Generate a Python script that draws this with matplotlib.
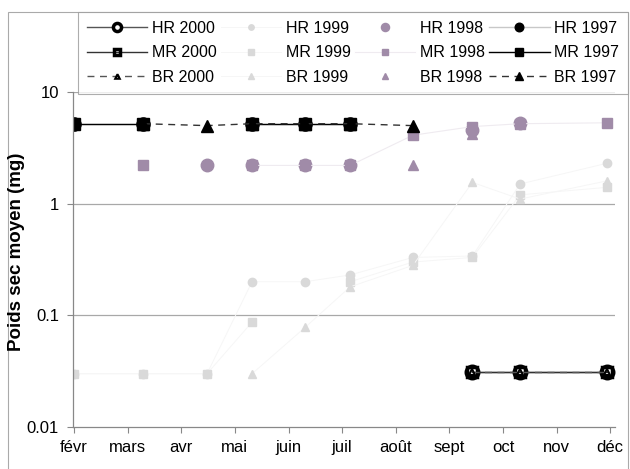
import numpy as np
import matplotlib
matplotlib.use("Agg")
import matplotlib.pyplot as plt
from matplotlib.patches import Rectangle

plt.rcParams['font.family'] = ['Liberation Sans', 'DejaVu Sans']

nan = np.nan

# sampling dates, in months after 1 Feb
sample_month = [0, 1.29, 2.48, 3.32, 4.31, 5.15, 6.32, 7.43, 8.32, 9.94]
month_labels = ['févr', 'mars', 'avr', 'mai', 'juin', 'juil', 'août', 'sept', 'oct', 'nov', 'déc']

# dry weight (mg)
hr2000 = [nan, nan, nan, nan, nan, nan, nan, 0.031, 0.031, 0.031]
mr2000 = [nan, nan, nan, nan, nan, nan, nan, 0.031, 0.031, 0.031]
br2000 = [nan, nan, nan, nan, nan, nan, nan, 0.031, 0.031, 0.031]
hr1999 = [0.03, 0.03, 0.03, 0.2, 0.2, 0.23, 0.33, 0.34, 1.5, 2.3]
mr1999 = [0.03, 0.03, 0.03, 0.087, nan, 0.2, 0.3, 0.33, 1.2, 1.4]
br1999 = [nan, nan, nan, 0.03, 0.078, 0.18, 0.28, 1.55, 1.1, 1.6]
hr1998 = [nan, nan, 2.2, 2.2, 2.2, 2.2, nan, 4.6, 5.3, nan]
mr1998 = [nan, 2.2, nan, 2.2, 2.2, 2.2, 4.1, 4.9, 5.2, 5.3]
br1998 = [nan, nan, nan, nan, nan, nan, 2.2, 4.2, nan, nan]
hr1997 = [5.2, 5.2, nan, 5.2, 5.2, 5.2, nan, nan, nan, nan]
mr1997 = [5.2, 5.2, nan, 5.2, 5.2, 5.2, nan, nan, nan, nan]
br1997 = [nan, 5.2, 5.0, 5.2, 5.2, 5.2, 5.0, nan, nan, nan]

W, H = 630, 469
fig = plt.figure(figsize=(W / 100, H / 100), dpi=100)
ax = fig.add_axes([73 / W, (H - 427) / H, (615 - 73) / W, (427 - 92) / H])

light = '#d9d9d9'
purple = '#a08ba8'

x = np.array(sample_month)
# 1999 - very light grey
p_hr99, = ax.plot(x, hr1999, color='#f6f6f6', lw=0.7, marker='o', ms=6, mfc=light, mec=light)
p_mr99, = ax.plot(x, mr1999, color='#f6f6f6', lw=0.7, marker='s', ms=6, mfc=light, mec=light)
p_br99, = ax.plot(x, br1999, color='#f6f6f6', lw=0.7, marker='^', ms=6, mfc=light, mec=light)
# 1998 - purple
p_hr98, = ax.plot(x, hr1998, ls='none', marker='o', ms=9, mfc=purple, mec=purple)
p_mr98, = ax.plot(x, mr1998, color='#efebf0', lw=0.8, marker='s', ms=7.5, mfc=purple, mec=purple)
p_br98, = ax.plot(x, br1998, ls='none', marker='^', ms=7.5, mfc=purple, mec=purple)
# 1997 - black filled
p_hr97, = ax.plot(x, hr1997, color='#c8c8c8', lw=1, marker='o', ms=9.5, mfc='black', mec='black')
p_mr97, = ax.plot(x, mr1997, color='black', lw=1, marker='s', ms=8, mfc='black', mec='black')
p_br97, = ax.plot(x, br1997, color='#333333', lw=1, ls=(0, (5, 4)), marker='^', ms=9, mfc='black', mec='black')
# 2000 - black open
p_hr00, = ax.plot(x, hr2000, color='#555555', lw=1, marker='o', ms=9, mfc='white', mec='black', mew=2.5)
p_mr00, = ax.plot(x, mr2000, color='#333333', lw=1, marker='s', ms=7.5, mfc='none', mec='black', mew=2.5)
p_br00, = ax.plot(x, br2000, color='#555555', lw=1, ls=(0, (5, 4)), marker='^', ms=5, mfc='none', mec='black', mew=1.5)

ax.set_yscale('log')
ax.set_ylim(0.01, 10)
ax.set_xlim(-0.02, 10.09)
ax.set_xticks(range(len(month_labels)))
ax.set_xticklabels(month_labels)
ax.set_yticks([0.01, 0.1, 1, 10])
ax.set_yticklabels(['0.01', '0.1', '1', '10'])
ax.yaxis.set_minor_locator(matplotlib.ticker.NullLocator())
ax.tick_params(axis='both', labelsize=12, color='#888888', length=4, width=0.8, pad=5)
ax.tick_params(axis='y', pad=6)

for yv in [0.1, 1, 10]:
    ax.axhline(yv, color='#a8a8a8', lw=0.9, zorder=0)
for s in ['top', 'right']:
    ax.spines[s].set_visible(False)
for s in ['left', 'bottom']:
    ax.spines[s].set_color('#888888')
    ax.spines[s].set_linewidth(0.9)

fig.text(17 / W, 1 - 252 / H, 'Poids sec moyen (mg)', rotation=90, va='center', ha='center',
         fontsize=13.5, fontweight='bold')

handles = [p_hr00, p_mr00, p_br00, p_hr99, p_mr99, p_br99,
           p_hr98, p_mr98, p_br98, p_hr97, p_mr97, p_br97]
labels = ['HR 2000', 'MR 2000', 'BR 2000', 'HR 1999', 'MR 1999', 'BR 1999',
          'HR 1998', 'MR 1998', 'BR 1998', 'HR 1997', 'MR 1997', 'BR 1997']
leg = fig.legend(handles, labels, ncol=4, loc='upper left', mode='expand',
                 bbox_to_anchor=(78 / W, 1 - 12 / H, 550 / W, 0.0),
                 fontsize=11.5, frameon=True, fancybox=False, markerscale=0.65,
                 handlelength=3.8, handletextpad=0.3, labelspacing=0.6,
                 borderaxespad=0, borderpad=0.55)
leg.get_frame().set_edgecolor('#999999')
leg.get_frame().set_linewidth(0.8)

fig.add_artist(Rectangle((8 / W, -0.01), 620 / W, (H - 12) / H + 0.01, transform=fig.transFigure,
                         fill=False, ec='#aaaaaa', lw=0.8))

fig.savefig('out.png', dpi=100)
